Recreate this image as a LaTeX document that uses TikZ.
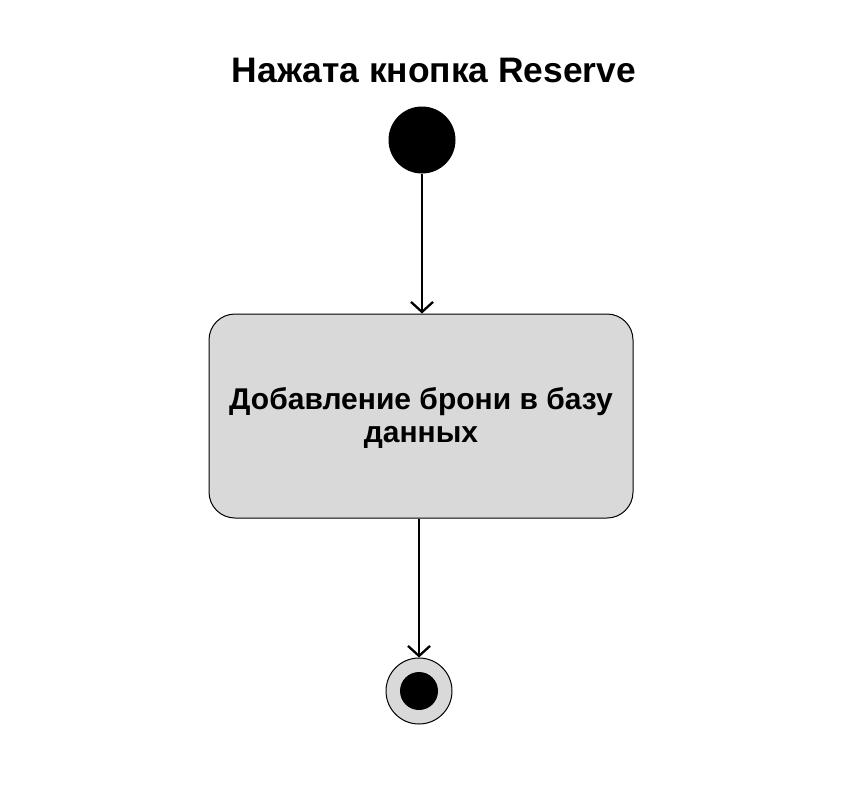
\documentclass[tikz,border=0pt]{standalone}
\usepackage{fontspec}
\setmainfont{Liberation Sans}
\usetikzlibrary{arrows.meta}
\definecolor{boxgray}{HTML}{D9D9D9}
\tikzset{
  flow/.style={line width=2.3pt, -{Straight Barb[length=10pt,width=22pt,line width=2.3pt]}},
  startdot/.style={circle, fill=black, minimum size=67pt, inner sep=0pt},
  actbox/.style={draw=black, line width=1pt, fill=boxgray, rounded corners=26pt,
    minimum width=424pt, minimum height=204pt},
  acttext/.style={align=center, inner sep=0pt, font=\fontsize{30}{33}\selectfont\bfseries},
  endring/.style={circle, draw=black, line width=1pt, fill=boxgray, minimum size=66pt, inner sep=0pt},
  enddot/.style={circle, fill=black, minimum size=38pt, inner sep=0pt},
  titletext/.style={font=\fontsize{35.4}{40}\selectfont\bfseries}
}
\begin{document}
\begin{tikzpicture}[x=1pt,y=-1pt]
\useasboundingbox (0,0) rectangle (846,806);
\node[titletext, anchor=base] (title) at (434,82) {Нажата кнопка Reserve};
\node[startdot] (start) at (422,140) {};
\node[actbox] (act) at (421,416) {};
\node[acttext] (actlabel) at ([yshift=-2pt]act.center) {Добавление брони в базу\\данных};
\node[endring] (endr) at (419,691) {};
\node[enddot] (endd) at (419,691) {};
\draw[flow] (start) -- (start |- act.north);
\draw[flow] (act.south -| endr) -- (endr);
\end{tikzpicture}
\end{document}
